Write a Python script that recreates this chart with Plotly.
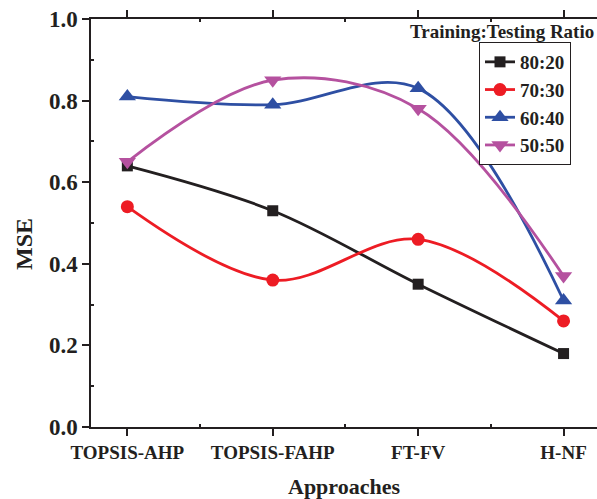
import plotly.graph_objects as go

approaches = ["TOPSIS-AHP", "TOPSIS-FAHP", "FT-FV", "H-NF"]
s_80_20 = [0.64, 0.53, 0.35, 0.18]
s_70_30 = [0.54, 0.36, 0.46, 0.26]
s_60_40 = [0.81, 0.79, 0.83, 0.31]
s_50_50 = [0.65, 0.85, 0.78, 0.37]
series_names = ["80:20", "70:30", "60:40", "50:50"]
y_ticks = [0.0, 0.2, 0.4, 0.6, 0.8, 1.0]

FONT = "Liberation Serif"
styles = [
    ("#231f20", "square", 11),
    ("#ed1c24", "circle", 13),
    ("#2e4fa3", "triangle-up", 15),
    ("#b5519f", "triangle-down", 15),
]

xpos = list(range(len(approaches)))
fig = go.Figure()
for name, vals, (col, sym, sz) in zip(series_names, [s_80_20, s_70_30, s_60_40, s_50_50], styles):
    fig.add_trace(go.Scatter(
        x=xpos, y=vals, name="<b>%s</b>" % name, mode="lines+markers",
        line=dict(color=col, width=2.8, shape="spline", smoothing=1.0),
        marker=dict(symbol=sym, size=sz, color=col),
    ))

W, H = 597, 499
ml, mr, mt, mb = 91, 0, 19, 72
PW, PH = W - ml - mr, H - mt - mb


def px_x(px):
    return (px - ml) / PW


def px_y(py):
    return (H - mb - py) / PH


fig.update_layout(
    width=W, height=H,
    margin=dict(l=ml, r=mr, t=mt, b=mb, autoexpand=False),
    paper_bgcolor="white", plot_bgcolor="white",
    font=dict(family=FONT, color="#231f20"),
    showlegend=True,
    legend=dict(
        x=px_x(479), y=px_y(42), xref="paper", yref="paper",
        xanchor="left", yanchor="top",
        bordercolor="#231f20", borderwidth=1, bgcolor="white",
        font=dict(family=FONT, size=19, color="#231f20"),
        tracegroupgap=0,
    ),
    xaxis=dict(
        range=[-0.25, 3.23], tickmode="array", tickvals=xpos,
        ticktext=["<b>%s</b>" % a for a in approaches],
        tickfont=dict(family=FONT, size=19, color="#231f20"),
        showgrid=False, zeroline=False, automargin=False,
        showline=True, linecolor="#231f20", linewidth=1.5,
        ticks="outside", ticklen=7, tickwidth=1.5, tickcolor="#231f20",
        mirror="ticks",
        minor=dict(tickvals=[0.5, 1.5, 2.5], ticks="inside", ticklen=3, tickcolor="#231f20"),
    ),
    yaxis=dict(
        range=[0, 1.0], tickmode="array", tickvals=y_ticks,
        ticktext=["<b>%.1f</b>" % v for v in y_ticks],
        tickfont=dict(family=FONT, size=23, color="#231f20"),
        showgrid=False, zeroline=False, automargin=False,
        showline=True, linecolor="#231f20", linewidth=1.5,
        ticks="outside", ticklen=7, tickwidth=1.5, tickcolor="#231f20",
        minor=dict(tickvals=[0.1, 0.3, 0.5, 0.7, 0.9], ticks="inside", ticklen=3, tickcolor="#231f20"),
    ),
    annotations=[
        dict(text="<b>Training:Testing Ratio</b>", x=px_x(408), y=px_y(31),
             xref="paper", yref="paper", xanchor="left", yanchor="middle",
             showarrow=False, font=dict(family=FONT, size=19, color="#231f20")),
        dict(text="<b>Approaches</b>", x=0.5, y=px_y(487),
             xref="paper", yref="paper", xanchor="center", yanchor="middle",
             showarrow=False, font=dict(family=FONT, size=22, color="#231f20")),
        dict(text="<b>MSE</b>", x=px_x(24), y=px_y(244),
             xref="paper", yref="paper", xanchor="center", yanchor="middle", textangle=-90,
             showarrow=False, font=dict(family=FONT, size=24, color="#231f20")),
    ],
)

fig.write_html(
    "out.html",
    config={"displayModeBar": False},
    post_script="document.body.style.margin='0';document.body.style.overflow='hidden';",
)
